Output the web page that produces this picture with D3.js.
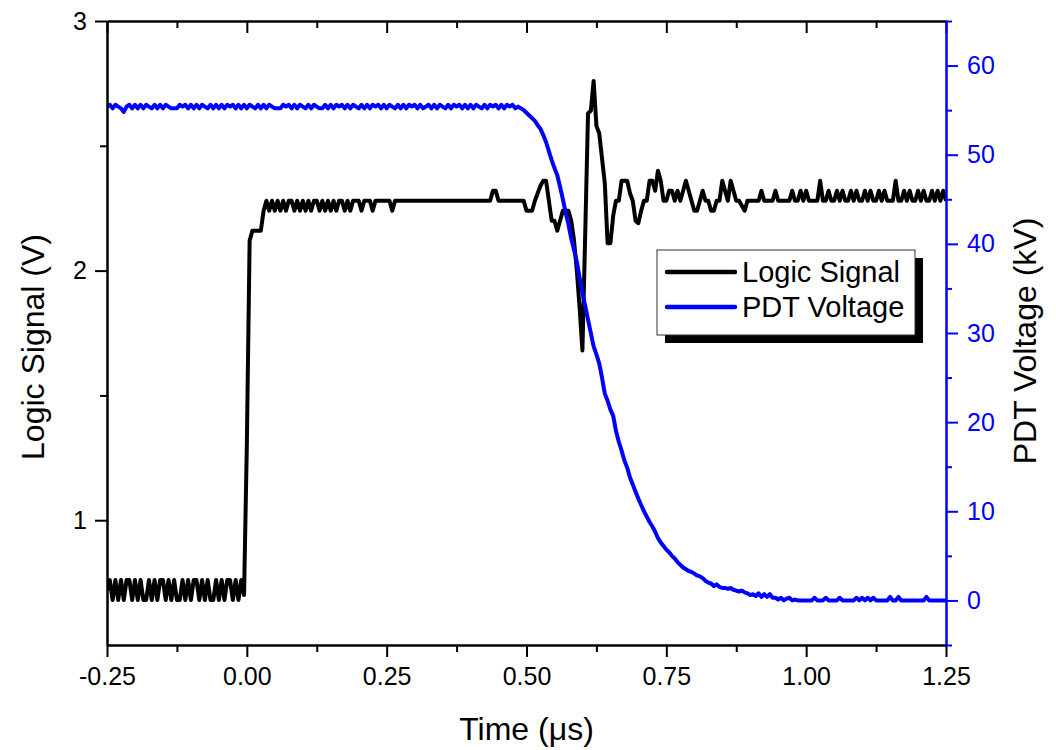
<!DOCTYPE html>
<html>
<head>
<meta charset="utf-8">
<script src="https://cdn.jsdelivr.net/npm/d3@7"></script>
<style>
  body { margin: 0; background: #fff; }
  #chart { width: 1056px; height: 750px; }
  text { font-family: "Liberation Sans", Arial, sans-serif; }
</style>
</head>
<body>
<div id="chart"></div>
<script>
// Logic signal and PDT voltage against time, two Y axes

// Sampling of both traces (µs)
const timeStart = -0.25;
const timeStep = 0.005;

// Logic signal (V), one value per sample
const logicSignal = [
    0.72,0.76,0.68,0.76,0.68,0.76,0.68,0.76,0.76,0.68,
    0.76,0.68,0.76,0.68,0.68,0.76,0.68,0.76,0.68,0.76,
    0.76,0.68,0.76,0.68,0.76,0.68,0.68,0.76,0.68,0.76,
    0.68,0.76,0.76,0.68,0.76,0.68,0.76,0.68,0.68,0.76,
    0.68,0.76,0.68,0.76,0.76,0.68,0.76,0.68,0.76,0.70,
    1.30,2.12,2.16,2.16,2.16,2.16,2.24,2.28,2.24,2.28,
    2.24,2.28,2.24,2.28,2.24,2.28,2.28,2.24,2.28,2.24,
    2.28,2.24,2.28,2.24,2.28,2.28,2.24,2.28,2.24,2.28,
    2.24,2.28,2.24,2.28,2.28,2.24,2.28,2.24,2.28,2.28,
    2.28,2.24,2.28,2.28,2.28,2.24,2.28,2.28,2.28,2.28,
    2.28,2.28,2.24,2.28,2.28,2.28,2.28,2.28,2.28,2.28,
    2.28,2.28,2.28,2.28,2.28,2.28,2.28,2.28,2.28,2.28,
    2.28,2.28,2.28,2.28,2.28,2.28,2.28,2.28,2.28,2.28,
    2.28,2.28,2.28,2.28,2.28,2.28,2.28,2.28,2.32,2.32,
    2.28,2.28,2.28,2.28,2.28,2.28,2.28,2.28,2.28,2.28,
    2.24,2.24,2.24,2.28,2.31,2.34,2.36,2.36,2.28,2.20,
    2.20,2.16,2.20,2.24,2.24,2.24,2.20,2.12,2.00,1.85,
    1.68,2.15,2.63,2.64,2.76,2.58,2.55,2.45,2.35,2.11,
    2.11,2.22,2.28,2.28,2.36,2.36,2.36,2.31,2.28,2.20,
    2.19,2.24,2.28,2.28,2.36,2.36,2.32,2.40,2.36,2.28,
    2.28,2.32,2.32,2.28,2.32,2.28,2.32,2.36,2.32,2.28,
    2.24,2.24,2.28,2.32,2.28,2.28,2.24,2.24,2.28,2.28,
    2.36,2.32,2.28,2.36,2.32,2.28,2.28,2.26,2.24,2.28,
    2.28,2.28,2.28,2.28,2.32,2.28,2.28,2.28,2.28,2.32,
    2.28,2.28,2.28,2.28,2.28,2.32,2.28,2.28,2.32,2.28,
    2.32,2.28,2.28,2.28,2.28,2.36,2.28,2.28,2.32,2.28,
    2.28,2.32,2.28,2.32,2.28,2.28,2.32,2.28,2.32,2.28,
    2.28,2.32,2.28,2.32,2.28,2.28,2.32,2.28,2.32,2.28,
    2.28,2.28,2.36,2.28,2.28,2.32,2.28,2.32,2.28,2.28,
    2.32,2.28,2.32,2.28,2.28,2.32,2.28,2.32,2.28,2.32,
    2.28
];

// PDT voltage (kV), one value per sample
const pdtVoltage = [
    55.4,55.6,55.2,55.6,55.4,55.2,54.8,55.4,55.6,55.2,
    55.6,55.2,55.6,55.2,55.6,55.4,55.2,55.6,55.2,55.6,
    55.2,55.6,55.4,55.2,55.2,55.2,55.6,55.4,55.6,55.2,
    55.6,55.2,55.6,55.2,55.6,55.4,55.2,55.6,55.2,55.6,
    55.2,55.6,55.2,55.6,55.4,55.6,55.2,55.6,55.2,55.6,
    55.2,55.6,55.4,55.2,55.6,55.2,55.6,55.2,55.6,55.4,
    55.2,55.2,55.2,55.6,55.4,55.6,55.2,55.6,55.2,55.6,
    55.4,55.2,55.6,55.2,55.6,55.4,55.2,55.2,55.6,55.2,
    55.6,55.2,55.6,55.4,55.6,55.2,55.6,55.2,55.6,55.4,
    55.2,55.6,55.2,55.6,55.2,55.6,55.4,55.6,55.2,55.6,
    55.2,55.6,55.4,55.2,55.6,55.2,55.6,55.2,55.6,55.4,
    55.6,55.2,55.6,55.2,55.4,55.6,55.2,55.6,55.2,55.6,
    55.4,55.2,55.6,55.2,55.6,55.4,55.6,55.2,55.6,55.2,
    55.6,55.2,55.6,55.4,55.2,55.6,55.2,55.6,55.4,55.6,
    55.2,55.6,55.2,55.6,55.4,55.6,55.2,55.4,55.2,55.0,
    54.7,54.4,54.1,53.8,53.3,52.9,52.2,51.4,50.4,49.4,
    48.5,47.7,46.4,45.0,43.5,42.2,40.6,39.3,38.0,36.2,
    34.5,33.0,31.5,30.0,28.5,27.6,26.6,25.0,23.2,22.4,
    21.4,20.7,19.0,17.8,16.8,15.7,14.9,13.8,13.0,12.2,
    11.4,10.7,10.0,9.4,8.8,8.3,7.7,7.0,6.5,6.1,
    5.7,5.4,5.0,4.7,4.3,4.0,3.7,3.5,3.3,3.2,
    3.0,2.8,2.7,2.5,2.2,2.0,1.9,1.6,1.8,1.5,
    1.4,1.4,1.3,1.4,1.2,1.1,1.0,1.1,0.9,0.8,
    0.6,0.7,0.5,0.8,0.4,0.7,0.4,0.7,0.3,0.3,
    0.1,0.3,0.0,0.2,0.3,0.0,0.1,0.0,0.0,0.0,
    0.0,0.0,0.0,0.3,0.0,0.0,0.0,0.3,0.0,0.0,
    0.0,0.0,0.3,0.0,0.0,0.0,0.0,0.0,0.3,0.0,
    0.3,0.0,0.3,0.0,0.3,0.0,0.0,0.0,0.0,0.0,
    0.4,0.0,0.0,0.4,0.0,0.0,0.0,0.0,0.0,0.0,
    0.0,0.0,0.0,0.4,0.0,0.0,0.0,0.0,0.0,0.0,
    0.0
];

// Tick values
const timeTicks = [-0.25, 0, 0.25, 0.5, 0.75, 1.0, 1.25];
const timeMinorTicks = [-0.125, 0.125, 0.375, 0.625, 0.875, 1.125];
const logicTicks = [1, 2, 3];
const logicMinorTicks = [1.5, 2.5];
const voltageTicks = [0, 10, 20, 30, 40, 50, 60];
const voltageMinorTicks = [-5, 5, 15, 25, 35, 45, 55, 65];

// Legend
const seriesLabels = ["Logic Signal", "PDT Voltage"];
const seriesColours = ["#000000", "#0000ff"];


// Style an axis group: thick lines, given colour and font size
function styleAxis(g, colour, fontSize) {
    g.select(".domain").attr("stroke", colour).attr("stroke-width", 2);
    g.selectAll(".tick line").attr("stroke", colour).attr("stroke-width", 2);
    g.selectAll(".tick text")
        .attr("fill", colour)
        .style("font-size", fontSize + "px")
        .style("font-family", "'Liberation Sans', Arial, sans-serif");
}

function dualAxisGraph(div) {

    // Empty the canvas
    let cvs = d3.select(div);
    cvs.html(null);

    let width = 1056,
        height = 750,
        margin = { top: 21, right: 110, bottom: 105, left: 107 };

    let svg = cvs.append("svg")
        .attr("width", width)
        .attr("height", height);

    // Scales
    let x = d3.scaleLinear()
        .domain([-0.25, 1.25])
        .range([margin.left, width - margin.right]);
    let yL = d3.scaleLinear()
        .domain([0.5, 3])
        .range([height - margin.bottom, margin.top]);
    let yR = d3.scaleLinear()
        .domain([-5, 65])
        .range([height - margin.bottom, margin.top]);

    let fmt = function(d) { return d.toFixed(2); };
    let bottom = height - margin.bottom,
        right = width - margin.right;

    // Clip the traces to the frame
    svg.append("clipPath").attr("id", "frame")
        .append("rect")
            .attr("x", margin.left).attr("y", margin.top)
            .attr("width", right - margin.left)
            .attr("height", bottom - margin.top);

    // Traces
    let lineL = d3.line()
        .x(function(d, i) { return x(timeStart + i * timeStep); })
        .y(function(d) { return yL(d); });
    let lineR = d3.line()
        .x(function(d, i) { return x(timeStart + i * timeStep); })
        .y(function(d) { return yR(d); });

    svg.append("path")
        .datum(logicSignal)
        .attr("clip-path", "url(#frame)")
        .attr("fill", "none")
        .attr("stroke", seriesColours[0])
        .attr("stroke-width", 4)
        .attr("stroke-linejoin", "round")
        .attr("d", lineL);
    svg.append("path")
        .datum(pdtVoltage)
        .attr("clip-path", "url(#frame)")
        .attr("fill", "none")
        .attr("stroke", seriesColours[1])
        .attr("stroke-width", 4)
        .attr("stroke-linejoin", "round")
        .attr("d", lineR);

    // Bottom X axis, major and minor ticks
    svg.append("g")
        .attr("transform", "translate(0," + bottom + ")")
        .call(d3.axisBottom(x).tickValues(timeMinorTicks).tickSize(7).tickSizeOuter(0).tickFormat(""))
        .call(styleAxis, "#000", 25);
    svg.append("g")
        .attr("transform", "translate(0," + bottom + ")")
        .call(d3.axisBottom(x).tickValues(timeTicks).tickSize(12).tickSizeOuter(0).tickPadding(10).tickFormat(fmt))
        .call(styleAxis, "#000", 25);

    // Top X axis, ticks pointing in
    svg.append("g")
        .attr("transform", "translate(0," + margin.top + ")")
        .call(d3.axisTop(x).tickValues(timeMinorTicks).tickSize(-7).tickSizeOuter(0).tickFormat(""))
        .call(styleAxis, "#000", 25);
    svg.append("g")
        .attr("transform", "translate(0," + margin.top + ")")
        .call(d3.axisTop(x).tickValues(timeTicks).tickSize(-12).tickSizeOuter(0).tickFormat(""))
        .call(styleAxis, "#000", 25);

    // Left Y axis (logic signal)
    svg.append("g")
        .attr("transform", "translate(" + margin.left + ",0)")
        .call(d3.axisLeft(yL).tickValues(logicMinorTicks).tickSize(7).tickSizeOuter(0).tickFormat(""))
        .call(styleAxis, "#000", 25);
    svg.append("g")
        .attr("transform", "translate(" + margin.left + ",0)")
        .call(d3.axisLeft(yL).tickValues(logicTicks).tickSize(12).tickSizeOuter(0).tickPadding(8).tickFormat(d3.format("d")))
        .call(styleAxis, "#000", 25);

    // Right Y axis (PDT voltage), blue
    svg.append("g")
        .attr("transform", "translate(" + right + ",0)")
        .call(d3.axisRight(yR).tickValues(voltageMinorTicks).tickSize(6).tickSizeOuter(0).tickFormat(""))
        .call(styleAxis, seriesColours[1], 25);
    svg.append("g")
        .attr("transform", "translate(" + right + ",0)")
        .call(d3.axisRight(yR).tickValues(voltageTicks).tickSize(12).tickSizeOuter(0).tickPadding(9).tickFormat(d3.format("d")))
        .call(styleAxis, seriesColours[1], 25);

    // Axis titles
    svg.append("text").text("Time (μs)")
        .attr("x", (margin.left + right) / 2)
        .attr("y", 740)
        .attr("text-anchor", "middle")
        .style("font-size", "32px");
    svg.append("text").text("Logic Signal (V)")
        .attr("transform", "translate(44," + ((margin.top + bottom) / 2 + 14) + ") rotate(-90)")
        .attr("text-anchor", "middle")
        .style("font-size", "32px");
    svg.append("text").text("PDT Voltage (kV)")
        .attr("transform", "translate(1036," + ((margin.top + bottom) / 2 + 8) + ") rotate(-90)")
        .attr("text-anchor", "middle")
        .style("font-size", "32px");

    // Legend box with drop shadow
    let lx = 657, ly = 250, lw = 258, lh = 85;
    svg.append("rect")
        .attr("x", lx + 8).attr("y", ly + 8)
        .attr("width", lw).attr("height", lh)
        .attr("fill", "#000");
    svg.append("rect")
        .attr("x", lx).attr("y", ly)
        .attr("width", lw).attr("height", lh)
        .attr("fill", "#fff")
        .attr("stroke", "#333")
        .attr("stroke-width", 1);
    let yl = ly + 22;
    for ( let i = 0; i < seriesLabels.length; ++i ) {
        svg.append("line")
            .attr("x1", lx + 10).attr("x2", lx + 78)
            .attr("y1", yl).attr("y2", yl)
            .attr("stroke", seriesColours[i])
            .attr("stroke-width", 4.5)
            .attr("stroke-linecap", "round");
        svg.append("text").text(seriesLabels[i])
            .attr("x", lx + 85).attr("y", yl + 10)
            .style("font-size", "29px");
        yl += 35;
    }
}

dualAxisGraph("#chart");
</script>
</body>
</html>
